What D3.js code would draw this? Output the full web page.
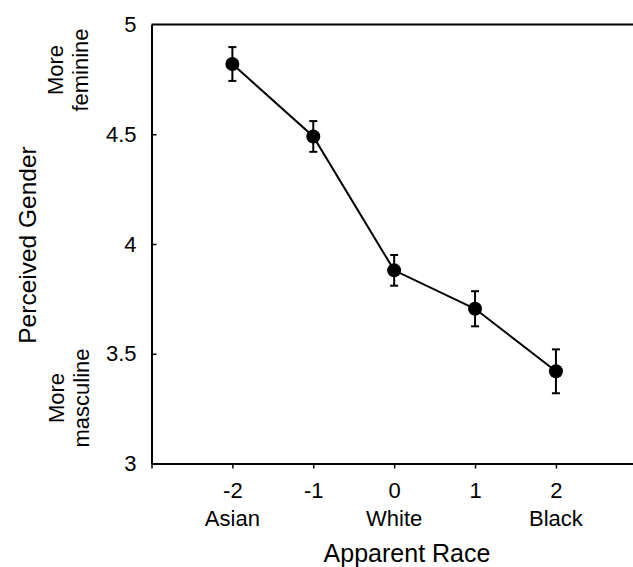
<!DOCTYPE html>
<meta charset="utf-8">
<script src="https://cdn.jsdelivr.net/npm/d3@7"></script>
<style>
  body { margin: 0; background: #fff; }
  svg { display: block; font-family: "Liberation Sans", Arial, sans-serif; }
</style>
<body>
<script>

var width = 633
var height = 567

// data
var races = [-2, -1, 0, 1, 2]
var raceNames = ["Asian", "", "White", "", "Black"]
var gender = [4.82, 4.49, 3.88, 3.705, 3.42]
var errors = [0.077, 0.07, 0.07, 0.08, 0.10]
var yTicks = [3, 3.5, 4, 4.5, 5]
var xTicks = [-3, -2, -1, 0, 1, 2]

var x = d3.scaleLinear().domain([-3, 3.2]).range([151.5, 653]);
var y = d3.scaleLinear().domain([3, 5]).range([463.5, 24.5]);

var svg = d3.select("body").append("svg")
            .attr("width", width)
            .attr("height", height);

// top frame line
svg.append("line")
   .attr("x1", x(-3)).attr("x2", x(3.2))
   .attr("y1", y(5)).attr("y2", y(5))
   .attr("stroke", "#000").attr("stroke-width", 2);

var xAxis = svg.append("g")
    .attr("transform", "translate(0," + y(3) + ")")
    .call(d3.axisBottom(x).tickValues(xTicks).tickSize(5).tickSizeOuter(0).tickPadding(14)
            .tickFormat(function(d) { return d === -3 ? "" : d; }));

var yAxis = svg.append("g")
    .attr("transform", "translate(" + x(-3) + ",0)")
    .call(d3.axisLeft(y).tickValues(yTicks).tickSize(-5).tickSizeOuter(0).tickPadding(15)
            .tickFormat(function(d) { return d; }));

[xAxis, yAxis].forEach(function(a) {
  a.select(".domain").attr("stroke-width", 2);
  a.selectAll(".tick line").attr("stroke-width", 1.5);
  a.selectAll(".tick text").style("font-size", "22px").attr("fill", "#000")
   .style("font-family", "'Liberation Sans', Arial, sans-serif");
});
yAxis.selectAll(".tick line").filter(function(d) { return d === 3 || d === 5; }).remove();

// category names under the ticks
svg.append("g").selectAll("text")
   .data(races)
   .join("text")
   .attr("x", function(d) { return x(d); })
   .attr("y", 526)
   .attr("text-anchor", "middle")
   .style("font-size", "22px")
   .text(function(d, i) { return raceNames[i]; });

svg.append("text")
   .attr("x", 407)
   .attr("y", 562)
   .attr("text-anchor", "middle")
   .style("font-size", "25px")
   .text("Apparent Race");

svg.append("text")
   .attr("transform", "translate(36,245) rotate(-90)")
   .attr("text-anchor", "middle")
   .style("font-size", "24.5px")
   .text("Perceived Gender");

function sideNote(cy, lines, baselines) {
  lines.forEach(function(t, i) {
    svg.append("text")
       .attr("transform", "translate(" + baselines[i] + "," + cy + ") rotate(-90)")
       .attr("text-anchor", "middle")
       .style("font-size", "22px")
       .text(t);
  });
}
sideNote(70, ["More", "feminine"], [63, 88]);
sideNote(398, ["More", "masculine"], [64, 89]);

var pts = races.map(function(r, i) { return {r: r, m: gender[i], e: errors[i]}; });

svg.append("path")
   .datum(pts)
   .attr("d", d3.line().x(function(d) { return x(d.r); }).y(function(d) { return y(d.m); }))
   .attr("fill", "none")
   .attr("stroke", "#000")
   .attr("stroke-width", 2);

var bars = svg.append("g").attr("stroke", "#000").attr("stroke-width", 2);
pts.forEach(function(d) {
  var cx = x(d.r), top = y(d.m + d.e), bot = y(d.m - d.e);
  bars.append("line").attr("x1", cx).attr("x2", cx).attr("y1", top).attr("y2", bot);
  bars.append("line").attr("x1", cx - 4).attr("x2", cx + 4).attr("y1", top).attr("y2", top);
  bars.append("line").attr("x1", cx - 4).attr("x2", cx + 4).attr("y1", bot).attr("y2", bot);
});

svg.append("g").selectAll("circle")
   .data(pts)
   .join("circle")
   .attr("cx", function(d) { return x(d.r); })
   .attr("cy", function(d) { return y(d.m); })
   .attr("r", 7)
   .attr("fill", "#000");

</script>
</body>
